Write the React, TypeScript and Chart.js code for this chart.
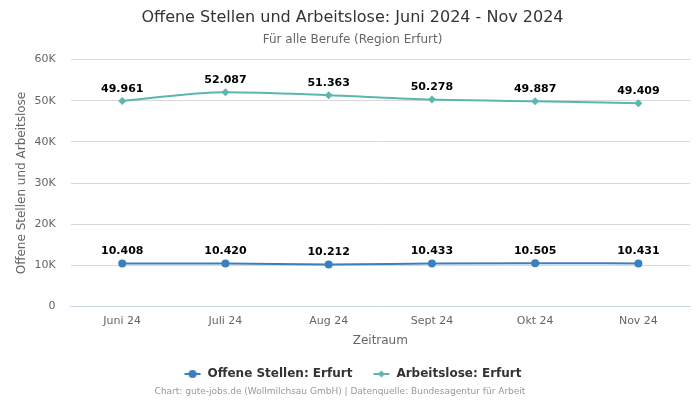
import React, { useEffect, useRef } from "react";
import { Chart, registerables } from "chart.js";

Chart.register(...registerables);

const categories = ["Juni 24", "Juli 24", "Aug 24", "Sept 24", "Okt 24", "Nov 24"];
const offeneStellen = [10408, 10420, 10212, 10433, 10505, 10431];
const arbeitslose = [49961, 52087, 51363, 50278, 49887, 49409];
const yTicks = [0, 10000, 20000, 30000, 40000, 50000, 60000];

const BLUE = "#3b7fbc";
const TEAL = "#5bb6ae";
const FONT = "'DejaVu Sans', sans-serif";

function fmt(v: number) {
  return v.toLocaleString("de-DE");
}

function legendIcon(color: string, diamond: boolean) {
  const c = document.createElement("canvas");
  c.width = 18;
  c.height = 10;
  const ctx = c.getContext("2d")!;
  ctx.strokeStyle = color;
  ctx.lineWidth = 2;
  ctx.beginPath();
  ctx.moveTo(1, 5);
  ctx.lineTo(17, 5);
  ctx.stroke();
  ctx.fillStyle = color;
  ctx.beginPath();
  if (diamond) {
    ctx.moveTo(9, 1.5);
    ctx.lineTo(12.5, 5);
    ctx.lineTo(9, 8.5);
    ctx.lineTo(5.5, 5);
    ctx.closePath();
  } else {
    ctx.arc(9, 5, 4, 0, Math.PI * 2);
  }
  ctx.fill();
  return c;
}

const dataLabelPlugin = {
  id: "dataLabels",
  afterDatasetsDraw(chart: any) {
    const ctx = chart.ctx;
    ctx.save();
    ctx.font = `bold 11px ${FONT}`;
    ctx.fillStyle = "#000";
    ctx.textAlign = "center";
    ctx.textBaseline = "middle";
    chart.data.datasets.forEach((ds: any, i: number) => {
      const meta = chart.getDatasetMeta(i);
      meta.data.forEach((pt: any, j: number) => {
        ctx.fillText(fmt(ds.data[j]), pt.x, pt.y - 12);
      });
    });
    ctx.restore();
  },
};

const creditsPlugin = {
  id: "credits",
  afterDraw(chart: any) {
    const ctx = chart.ctx;
    ctx.save();
    ctx.font = `9px ${FONT}`;
    ctx.fillStyle = "#999";
    ctx.textAlign = "center";
    ctx.textBaseline = "middle";
    ctx.fillText(
      "Chart: gute-jobs.de (Wollmilchsau GmbH) | Datenquelle: Bundesagentur für Arbeit",
      340,
      392
    );
    ctx.restore();
  },
};

export default function App() {
  const ref = useRef<HTMLCanvasElement>(null);
  useEffect(() => {
    const blueIcon = legendIcon(BLUE, false);
    const tealIcon = legendIcon(TEAL, true);
    const chart = new Chart(ref.current!, {
      type: "line",
      data: {
        labels: categories,
        datasets: [
          {
            label: "Offene Stellen: Erfurt",
            data: offeneStellen,
            borderColor: BLUE,
            backgroundColor: BLUE,
            borderWidth: 2,
            pointStyle: "circle",
            pointRadius: 4,
            pointBorderWidth: 0,
            pointHoverRadius: 4,
            cubicInterpolationMode: "monotone",
          },
          {
            label: "Arbeitslose: Erfurt",
            data: arbeitslose,
            borderColor: TEAL,
            backgroundColor: TEAL,
            borderWidth: 2,
            pointStyle: "rectRot",
            pointRadius: 4,
            pointBorderWidth: 0,
            pointHoverRadius: 4,
            cubicInterpolationMode: "monotone",
          },
        ],
      },
      options: {
        animation: false,
        responsive: true,
        maintainAspectRatio: false,
        layout: { padding: { left: 15, right: 10, top: 8, bottom: 10 } },
        plugins: {
          title: {
            display: true,
            text: "Offene Stellen und Arbeitslose: Juni 2024 - Nov 2024",
            color: "#333",
            font: { family: FONT, size: 16, weight: "normal" },
            padding: { top: 0, bottom: 5 },
          },
          subtitle: {
            display: true,
            text: "Für alle Berufe (Region Erfurt)",
            color: "#666",
            font: { family: FONT, size: 12, weight: "normal" },
            padding: { top: 0, bottom: 13 },
          },
          legend: {
            position: "bottom",
            labels: {
              usePointStyle: true,
              pointStyleWidth: 18,
              color: "#333",
              font: { family: FONT, size: 12, weight: "bold" },
              padding: 20,
              generateLabels(chart: any) {
                return chart.data.datasets.map((ds: any, i: number) => ({
                  text: ds.label,
                  pointStyle: i === 0 ? blueIcon : tealIcon,
                  fillStyle: ds.borderColor,
                  strokeStyle: ds.borderColor,
                  fontColor: "#333",
                  lineWidth: 0,
                  datasetIndex: i,
                  hidden: false,
                }));
              },
            },
          },
          tooltip: { enabled: false },
        },
        scales: {
          x: {
            offset: true,
            grid: { display: false, drawTicks: false },
            border: { color: "#ccd6eb" },
            ticks: {
              color: "#666",
              font: { family: FONT, size: 11 },
              padding: 8,
            },
            title: {
              display: true,
              text: "Zeitraum",
              color: "#666",
              font: { family: FONT, size: 12 },
              padding: { top: -2, bottom: 0 },
            },
          },
          y: {
            min: 0,
            max: 60000,
            afterBuildTicks(scale: any) {
              scale.ticks = yTicks.map((v) => ({ value: v }));
            },
            grid: { color: "#d8d8d8", drawTicks: false },
            border: { display: false },
            ticks: {
              color: "#666",
              font: { family: FONT, size: 11 },
              padding: 15,
              callback: (v: any) => (v === 0 ? "0" : v / 1000 + "K"),
            },
            title: {
              display: true,
              text: "Offene Stellen und Arbeitslose",
              color: "#666",
              font: { family: FONT, size: 12 },
              padding: { top: 0, bottom: -10 },
            },
          },
        },
      } as any,
      plugins: [dataLabelPlugin, creditsPlugin],
    });
    return () => chart.destroy();
  }, []);
  return (
    <div style={{ position: "fixed", left: 0, top: 0, width: 700, height: 400, background: "#fff" }}>
      <canvas ref={ref} />
    </div>
  );
}
